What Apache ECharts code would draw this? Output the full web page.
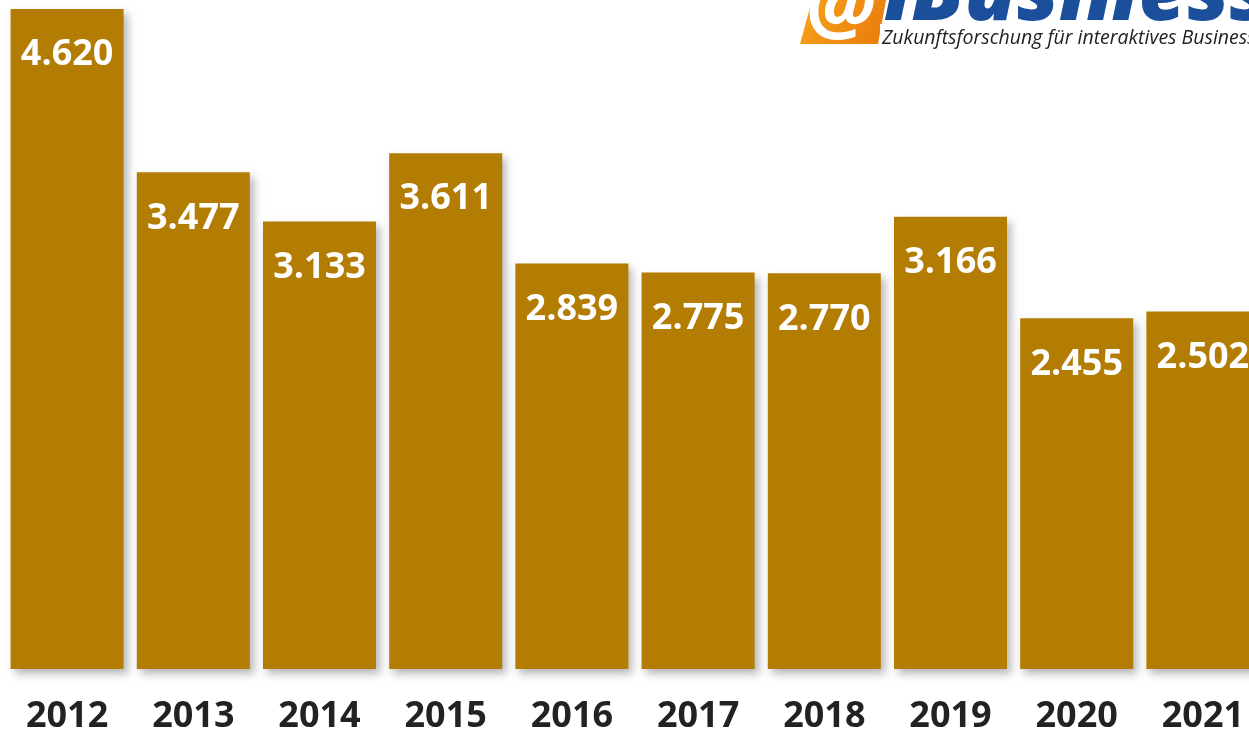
<!DOCTYPE html>
<html>
<head>
<meta charset="utf-8">
<script src="https://cdn.jsdelivr.net/npm/echarts@6/dist/echarts.min.js"></script>
<style>
  html, body { margin: 0; padding: 0; background: #fff; }
  #main { width: 1249px; height: 733px; }
</style>
</head>
<body>
<div id="main"></div>
<script>
var years = ['2012', '2013', '2014', '2015', '2016', '2017', '2018', '2019', '2020', '2021'];
var values = [4620, 3477, 3133, 3611, 2839, 2775, 2770, 3166, 2455, 2502];

// deutsche Tausenderpunkte
function fmt(v) {
    return String(v).replace(/\B(?=(\d{3})+(?!\d))/g, '.');
}

var myChart = echarts.init(document.getElementById('main'));

var option = {
    backgroundColor: '#ffffff',
    animation: false,
    grid: {
        left: 4,
        right: -17,
        top: 9,
        bottom: 64,
        outerBoundsMode: 'none',
        containLabel: false
    },
    xAxis: {
        type: 'category',
        data: years,
        axisLine: { show: false },
        axisTick: { show: false },
        axisLabel: {
            margin: 30,
            color: '#222222',
            fontFamily: 'Open Sans',
            fontWeight: 'bold',
            fontSize: 36
        }
    },
    yAxis: {
        type: 'value',
        min: 0,
        max: 4620,
        show: false,
        splitLine: { show: false }
    },
    series: [{
        name: 'Wert',
        type: 'bar',
        data: values,
        barWidth: 113,
        itemStyle: {
            color: '#b37c02',
            shadowColor: 'rgba(0,0,0,0.28)',
            shadowBlur: 8,
            shadowOffsetX: 4,
            shadowOffsetY: 5
        },
        label: {
            show: true,
            position: 'insideTop',
            distance: 28,
            color: '#ffffff',
            fontFamily: 'Open Sans',
            fontWeight: 'bold',
            fontSize: 36,
            formatter: function (p) { return fmt(p.value); }
        }
    }],
    graphic: [
        {
            type: 'polygon',
            shape: { points: [[800, 44], [878, 44], [886, 0], [812, 0]] },
            style: {
                fill: new echarts.graphic.LinearGradient(0, 0, 1, 1, [
                    { offset: 0, color: '#f7a21b' },
                    { offset: 1, color: '#e97b0c' }
                ])
            }
        },
        {
            type: 'text',
            left: 806,
            top: -30,
            style: {
                text: '@',
                fill: '#ffffff',
                font: 'italic bold 80px "Open Sans"'
            }
        },
        {
            type: 'text',
            x: 884,
            y: 38,
            style: {
                text: 'iBusiness',
                fill: '#1b4f9b',
                font: 'italic 900 84px "Open Sans"',
                textVerticalAlign: 'bottom'
            }
        },
        {
            type: 'rect',
            shape: { x: 880, y: 24, width: 369, height: 30 },
            style: { fill: '#ffffff' }
        },
        {
            type: 'text',
            x: 882,
            y: 38,
            style: {
                text: 'Zukunftsforschung für interaktives Business',
                fill: '#222222',
                font: 'italic 19.5px "Open Sans"',
                textVerticalAlign: 'middle'
            }
        }
    ]
};

myChart.setOption(option);
</script>
</body>
</html>
